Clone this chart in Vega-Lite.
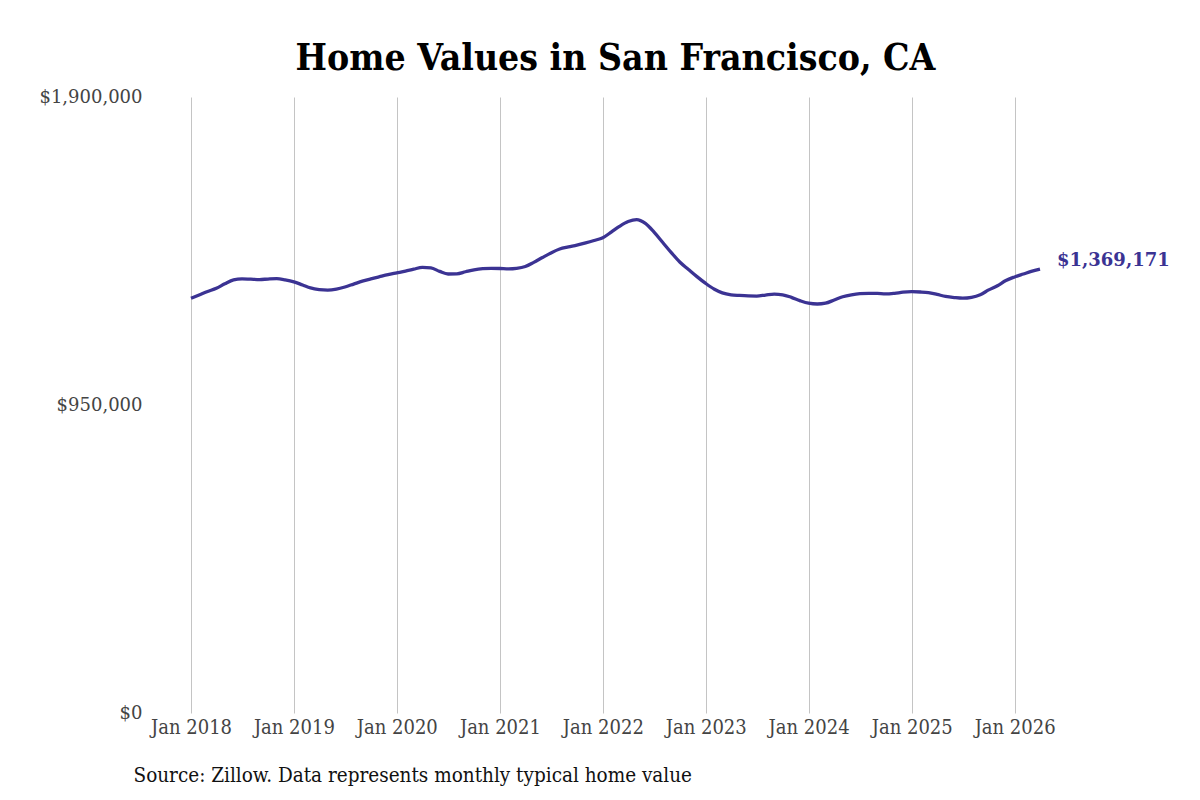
{
  "$schema": "https://vega.github.io/schema/vega-lite/v6.json",
  "autosize": {"type": "none"},
  "width": 849,
  "height": 616,
  "padding": {"left": 191, "top": 97, "right": 160, "bottom": 87},
  "background": "white",
  "title": {
    "text": "Home Values in San Francisco, CA",
    "font": "DejaVu Serif Condensed",
    "fontWeight": "bold",
    "fontSize": 37,
    "color": "#000000",
    "anchor": "middle",
    "offset": 10
  },
  "config": {"view": {"stroke": null}},
  "data": {
    "values": [
      {"date": "2018/01/01", "value": 1279000},
      {"date": "2018/02/01", "value": 1290000},
      {"date": "2018/03/01", "value": 1300000},
      {"date": "2018/04/01", "value": 1310000},
      {"date": "2018/05/01", "value": 1324000},
      {"date": "2018/06/01", "value": 1336000},
      {"date": "2018/07/01", "value": 1339000},
      {"date": "2018/08/01", "value": 1338000},
      {"date": "2018/09/01", "value": 1337000},
      {"date": "2018/10/01", "value": 1338500},
      {"date": "2018/11/01", "value": 1339500},
      {"date": "2018/12/01", "value": 1336000},
      {"date": "2019/01/01", "value": 1330000},
      {"date": "2019/02/01", "value": 1320000},
      {"date": "2019/03/01", "value": 1311000},
      {"date": "2019/04/01", "value": 1306000},
      {"date": "2019/05/01", "value": 1304500},
      {"date": "2019/06/01", "value": 1307500},
      {"date": "2019/07/01", "value": 1314000},
      {"date": "2019/08/01", "value": 1323000},
      {"date": "2019/09/01", "value": 1332000},
      {"date": "2019/10/01", "value": 1339000},
      {"date": "2019/11/01", "value": 1345700},
      {"date": "2019/12/01", "value": 1352000},
      {"date": "2020/01/01", "value": 1357500},
      {"date": "2020/02/01", "value": 1363000},
      {"date": "2020/03/01", "value": 1369000},
      {"date": "2020/04/01", "value": 1374500},
      {"date": "2020/05/01", "value": 1373000},
      {"date": "2020/06/01", "value": 1362000},
      {"date": "2020/07/01", "value": 1354000},
      {"date": "2020/08/01", "value": 1354500},
      {"date": "2020/09/01", "value": 1361000},
      {"date": "2020/10/01", "value": 1367000},
      {"date": "2020/11/01", "value": 1370500},
      {"date": "2020/12/01", "value": 1371500},
      {"date": "2021/01/01", "value": 1371000},
      {"date": "2021/02/01", "value": 1370000},
      {"date": "2021/03/01", "value": 1371500},
      {"date": "2021/04/01", "value": 1377000},
      {"date": "2021/05/01", "value": 1390000},
      {"date": "2021/06/01", "value": 1405000},
      {"date": "2021/07/01", "value": 1419000},
      {"date": "2021/08/01", "value": 1431000},
      {"date": "2021/09/01", "value": 1437500},
      {"date": "2021/10/01", "value": 1443000},
      {"date": "2021/11/01", "value": 1450000},
      {"date": "2021/12/01", "value": 1457500},
      {"date": "2022/01/01", "value": 1466000},
      {"date": "2022/02/01", "value": 1484000},
      {"date": "2022/03/01", "value": 1501000},
      {"date": "2022/04/01", "value": 1516000},
      {"date": "2022/05/01", "value": 1522000},
      {"date": "2022/06/01", "value": 1510000},
      {"date": "2022/07/01", "value": 1484000},
      {"date": "2022/08/01", "value": 1452000},
      {"date": "2022/09/01", "value": 1420000},
      {"date": "2022/10/01", "value": 1391000},
      {"date": "2022/11/01", "value": 1368000},
      {"date": "2022/12/01", "value": 1346000},
      {"date": "2023/01/01", "value": 1325000},
      {"date": "2023/02/01", "value": 1307000},
      {"date": "2023/03/01", "value": 1296000},
      {"date": "2023/04/01", "value": 1290000},
      {"date": "2023/05/01", "value": 1288000},
      {"date": "2023/06/01", "value": 1286500},
      {"date": "2023/07/01", "value": 1286000},
      {"date": "2023/08/01", "value": 1289000},
      {"date": "2023/09/01", "value": 1292000},
      {"date": "2023/10/01", "value": 1290000},
      {"date": "2023/11/01", "value": 1282000},
      {"date": "2023/12/01", "value": 1272000},
      {"date": "2024/01/01", "value": 1264000},
      {"date": "2024/02/01", "value": 1261500},
      {"date": "2024/03/01", "value": 1264000},
      {"date": "2024/04/01", "value": 1274000},
      {"date": "2024/05/01", "value": 1284000},
      {"date": "2024/06/01", "value": 1290000},
      {"date": "2024/07/01", "value": 1293500},
      {"date": "2024/08/01", "value": 1294500},
      {"date": "2024/09/01", "value": 1294000},
      {"date": "2024/10/01", "value": 1292500},
      {"date": "2024/11/01", "value": 1294500},
      {"date": "2024/12/01", "value": 1298000},
      {"date": "2025/01/01", "value": 1299500},
      {"date": "2025/02/01", "value": 1298500},
      {"date": "2025/03/01", "value": 1296500},
      {"date": "2025/04/01", "value": 1291000},
      {"date": "2025/05/01", "value": 1285000},
      {"date": "2025/06/01", "value": 1281500},
      {"date": "2025/07/01", "value": 1279500},
      {"date": "2025/08/01", "value": 1282000},
      {"date": "2025/09/01", "value": 1290000},
      {"date": "2025/10/01", "value": 1305000},
      {"date": "2025/11/01", "value": 1318000},
      {"date": "2025/12/01", "value": 1334000},
      {"date": "2026/01/01", "value": 1345000},
      {"date": "2026/02/01", "value": 1354000},
      {"date": "2026/03/01", "value": 1362000},
      {"date": "2026/04/01", "value": 1369171}
    ]
  },
  "encoding": {
    "x": {
      "field": "date",
      "type": "temporal",
      "scale": {"nice": false},
      "axis": {
        "title": "Source: Zillow. Data represents monthly typical home value",
        "titleFont": "DejaVu Serif Condensed",
        "titleFontWeight": "normal",
        "titleFontSize": 20.5,
        "titleColor": "#111111",
        "titleAnchor": "start",
        "titleAlign": "left",
        "titleX": -58,
        "titleY": 62,
        "titleBaseline": "middle",
        "format": "%b %Y",
        "tickCount": {"interval": "year", "step": 1},
        "labelFont": "DejaVu Serif Condensed",
        "labelFontSize": 20,
        "labelColor": "#444444",
        "labelPadding": 4,
        "labelFlush": false,
        "labelOverlap": false,
        "domain": false,
        "ticks": false,
        "grid": true,
        "gridColor": "#c4c4c4",
        "gridWidth": 1
      }
    },
    "y": {
      "field": "value",
      "type": "quantitative",
      "scale": {"domain": [0, 1900000], "nice": false, "zero": true},
      "axis": {
        "title": null,
        "values": [0, 950000, 1900000],
        "format": "$,.0f",
        "labelFont": "DejaVu Serif",
        "labelFontSize": 18,
        "labelColor": "#444444",
        "labelPadding": 49,
        "labelFlush": false,
        "labelBaseline": "middle",
        "domain": false,
        "ticks": false,
        "grid": false
      }
    }
  },
  "layer": [
    {
      "mark": {"type": "line", "color": "#3b3393", "strokeWidth": 3.3, "interpolate": "monotone"}
    },
    {
      "transform": [
        {"joinaggregate": [{"op": "max", "field": "date", "as": "maxd"}]},
        {"filter": "+datum.date === +datum.maxd"}
      ],
      "mark": {
        "type": "text",
        "align": "left",
        "baseline": "middle",
        "dx": 17,
        "dy": -8,
        "font": "DejaVu Serif",
        "fontWeight": "bold",
        "fontSize": 18,
        "color": "#3b3393"
      },
      "encoding": {
        "text": {"field": "value", "type": "quantitative", "format": "$,.0f"}
      }
    }
  ]
}
